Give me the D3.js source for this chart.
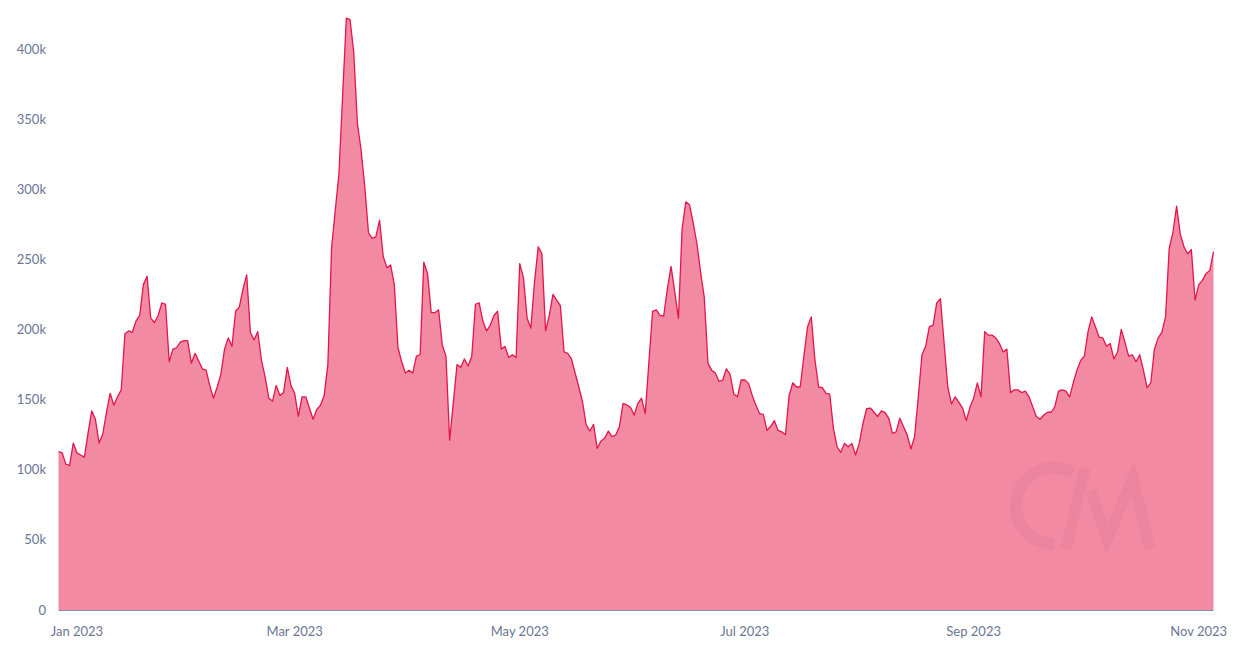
<!DOCTYPE html>
<html>
<head>
<meta charset="utf-8">
<script src="https://cdn.jsdelivr.net/npm/d3@7"></script>
<style>
  html, body { margin: 0; padding: 0; background: #fff; }
  svg { display: block; font-family: Lato, "Open Sans", sans-serif; }
</style>
</head>
<body>
<svg id="chart" width="1240" height="648"></svg>
<script>
// daily values, in thousands, starting at startDate
var startDate = "2022-12-27";
var values = [
  113, 112, 104, 103, 119, 112, 110.5, 109, 126, 142, 136, 119, 125.5, 141, 154.5, 146,
  152, 157, 197, 199, 198, 206, 210, 232, 238, 208, 205, 210, 219, 218, 177, 186,
  187, 191, 192, 192, 176, 183, 177.5, 172, 171, 160, 151, 159, 168, 186, 194, 188,
  213, 216, 229, 239, 198, 192.5, 198.5, 178, 166, 151, 149, 160, 153, 155, 173, 160,
  154.5, 138, 152, 152, 144, 136, 143, 146, 153, 175, 258, 285, 311, 367, 422, 421,
  398, 347, 328, 302, 269, 265, 266, 278, 252, 244, 246, 232, 187, 177, 169, 171,
  169, 181, 182, 248, 240, 212, 212, 214, 189, 181, 121, 148, 175, 173, 179, 174,
  181, 218, 219, 206, 199, 203, 210, 213, 186, 188, 180, 182, 180, 247, 237, 208,
  201, 234, 259, 254, 199, 210, 225, 221, 217, 184, 183, 179, 169, 159, 148.5, 132,
  127.6, 132.4, 115.3, 120.5, 122.4, 127.6, 123.6, 124.8, 130.7, 147.3, 146.2, 144.5, 139, 147.3, 151, 140,
  177, 213, 214, 210, 209.6, 229, 245, 227, 208, 272, 291, 289, 276, 261.5, 241, 223,
  176, 171, 169, 163, 164, 172, 168, 154, 152, 164, 164, 161.6, 153, 146, 140, 139.5,
  128, 131, 135, 128, 127, 125, 153, 162, 159, 159, 181, 202, 209, 178, 159, 158.5,
  154.5, 154, 129.5, 116.4, 112.4, 118.8, 116.4, 118.8, 110.5, 118.8, 133, 143.5, 144, 141, 138, 142,
  140.7, 136.7, 126, 127, 136.7, 130.7, 124.8, 114.8, 123.6, 152, 182, 188, 202, 203, 219, 222,
  190, 159, 147, 152, 148, 144, 135, 144.5, 151, 162, 152, 198.5, 196, 196, 194, 190,
  184, 186, 155, 157, 157, 155, 156, 152, 145, 138, 136, 139, 141, 141, 145, 156,
  157, 156, 152, 162, 171, 178, 181, 198.5, 209, 202, 194.5, 194, 188, 190, 179, 184,
  200, 191, 181, 182, 177, 182, 171, 158.5, 162, 186, 194, 198, 209, 258, 269, 288,
  268, 259, 254, 257, 221, 232, 235, 240, 242, 255.5
];
var xTicks = ["2023-01-01", "2023-03-01", "2023-05-01", "2023-07-01", "2023-09-01", "2023-11-01"];
var yTicks = [0, 50, 100, 150, 200, 250, 300, 350, 400];

var parse = d3.timeParse("%Y-%m-%d");
var start = parse(startDate);
var data = values.map(function (v, i) {
    return { date: d3.timeDay.offset(start, i), value: v * 1000 };
});

var svg = d3.select("#chart");
var plotLeft = 58.5, plotRight = 1213.5, plotBottom = 610, plotTop = 49;

var x = d3.scaleTime()
    .domain([data[0].date, data[data.length - 1].date])
    .range([plotLeft, plotRight]);
var y = d3.scaleLinear()
    .domain([0, 400000])
    .range([plotBottom, plotTop]);

var area = d3.area()
    .x(function (d) { return x(d.date); })
    .y0(y(0))
    .y1(function (d) { return y(d.value); });
var line = d3.line()
    .x(function (d) { return x(d.date); })
    .y(function (d) { return y(d.value); });

svg.append("path")
    .datum(data)
    .attr("d", area)
    .attr("fill", "#f28aa3");

// faint CM watermark
var wm = svg.append("g").attr("fill", "#eb849f").attr("stroke", "#eb849f");
wm.append("path")
    .attr("stroke", "none")
    .attr("transform", "translate(1054,506)")
    .attr("d", d3.arc().innerRadius(32).outerRadius(44).startAngle(Math.PI).endAngle(13 * Math.PI / 6)());
wm.append("path")
    .attr("fill", "none")
    .attr("stroke-width", 11)
    .attr("d", "M1066,549 L1085,468");
wm.append("path")
    .attr("fill", "none")
    .attr("stroke-width", 11)
    .attr("stroke-linejoin", "miter")
    .attr("d", "M1091,490 L1107,540 L1133,478 L1150,549");

svg.append("path")
    .datum(data)
    .attr("d", line)
    .attr("fill", "none")
    .attr("stroke", "#e3164b")
    .attr("stroke-width", 1.3)
    .attr("stroke-linejoin", "round");

// x axis
svg.append("line")
    .attr("x1", plotLeft).attr("x2", plotRight)
    .attr("y1", plotBottom + 0.5).attr("y2", plotBottom + 0.5)
    .attr("stroke", "#8191b5")
    .attr("stroke-width", 1.2);

var fmt = d3.timeFormat("%b %Y");
svg.selectAll(".x-label")
    .data(xTicks)
    .enter()
    .append("text")
    .attr("class", "x-label")
    .attr("x", function (d) { return x(parse(d)); })
    .attr("y", 636)
    .attr("text-anchor", "middle")
    .attr("fill", "#6b7596")
    .attr("font-size", 13)
    .text(function (d) { return fmt(parse(d)); });

svg.selectAll(".y-label")
    .data(yTicks)
    .enter()
    .append("text")
    .attr("class", "y-label")
    .attr("x", 46)
    .attr("y", function (d) { return y(d * 1000); })
    .attr("dy", "0.35em")
    .attr("text-anchor", "end")
    .attr("fill", "#6b7596")
    .attr("font-size", 13)
    .text(function (d) { return d === 0 ? "0" : d + "k"; });
</script>
</body>
</html>
